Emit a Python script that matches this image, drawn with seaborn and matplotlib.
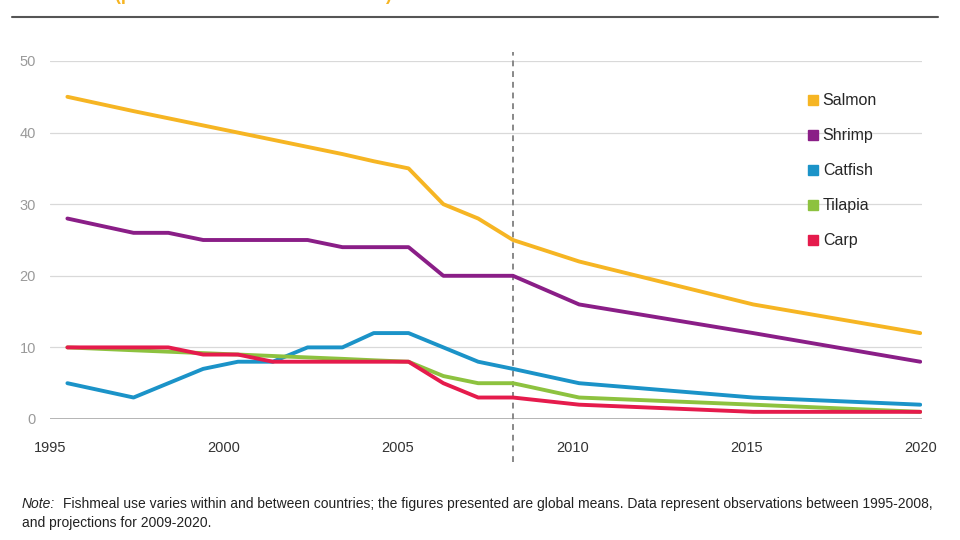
import numpy as np
import pandas as pd
import matplotlib
matplotlib.use("Agg")
import matplotlib.pyplot as plt
from matplotlib.lines import Line2D
import seaborn as sns

# positions of the data points along the year axis, as drawn in the reference
years = [1995.5, 1997.4, 1998.4, 1999.4, 2000.4, 2001.4, 2002.4, 2003.4,
         2004.3, 2005.3, 2006.3, 2007.3, 2008.3, 2010.2, 2015.2, 2020.0]

salmon = [45, 43, 42, 41, 40, 39, 38, 37, 36, 35, 30, 28, 25, 22, 16, 12]
shrimp = [28, 26, 26, 25, 25, 25, 25, 24, 24, 24, 20, 20, 20, 16, 12, 8]
catfish = [5, 3, 5, 7, 8, 8, 10, 10, 12, 12, 10, 8, 7, 5, 3, 2]
tilapia = [10, 9.6, 9.4, 9.2, 9, 8.8, 8.6, 8.4, 8.2, 8, 6, 5, 5, 3, 2, 1]
carp = [10, 10, 10, 9, 9, 8, 8, 8, 8, 8, 5, 3, 3, 2, 1, 1]

species = ["Salmon", "Shrimp", "Catfish", "Tilapia", "Carp"]
colors = ["#F6B523", "#8A1E87", "#1B93C8", "#8DC23F", "#E51B4C"]

projection_start = 2008.3
x_ticks = [1995, 2000, 2005, 2010, 2015, 2020]
y_ticks = [0, 10, 20, 30, 40, 50]

title = "(percent of fishmeal in fish feed)"
note_line1 = ("Fishmeal use varies within and between countries; the figures presented are global means. "
              "Data represent observations between 1995-2008,")
note_line2 = "and projections for 2009-2020."

series = dict(zip(species, [salmon, shrimp, catfish, tilapia, carp]))
df = pd.DataFrame([
    {"Year": y, "Value": v, "Species": name}
    for name, vals in series.items() for y, v in zip(years, vals)
])

sns.set_style("white")
plt.rcParams["font.family"] = ["Liberation Sans", "DejaVu Sans"]

fig = plt.figure(figsize=(9.6, 5.4), dpi=100)
ax = fig.add_axes([50 / 960, 1 - 419 / 540, 872 / 960, 358 / 540])

# grid
for yv in y_ticks[1:]:
    ax.axhline(yv, color="#d9d9d9", lw=0.9, zorder=0)
ax.axhline(0, color="#a0a0a0", lw=1.1, zorder=0)

sns.lineplot(data=df, x="Year", y="Value", hue="Species", hue_order=species,
             palette=colors, linewidth=2.8, legend=False, ax=ax)

ax.axvline(projection_start, ymin=-0.12, ymax=1.025, color="#888888", lw=1.4,
           ls=(0, (3, 2.5)), clip_on=False, zorder=1)

ax.set_xlim(1995, 2020.05)
ax.set_ylim(0, 50)
ax.set_xticks(x_ticks)
ax.set_yticks(y_ticks)
ax.set_xlabel("")
ax.set_ylabel("")
for s in ax.spines.values():
    s.set_visible(False)
ax.tick_params(axis="y", length=0, pad=10, labelsize=10.5, labelcolor="#9a9a9a")
ax.tick_params(axis="x", length=0, pad=16, labelsize=10.5, labelcolor="#333333")

handles = [Line2D([], [], marker="s", ls="none", color=c, markersize=6.5) for c in colors]
ax.legend(handles, species, loc="upper left", bbox_to_anchor=(802 / 960, 1 - 87 / 540),
          bbox_transform=fig.transFigure, frameon=False, fontsize=11.5,
          handlelength=0.6, handletextpad=0.3, labelspacing=1.25, borderaxespad=0)

# top rule and clipped subtitle
fig.add_artist(Line2D([12 / 960, 938 / 960], [1 - 17 / 540, 1 - 17 / 540],
                      color="#555555", lw=1.5, transform=fig.transFigure))
fig.text(115 / 960, 1 + 4 / 540, title, color="#F6B523", fontsize=13,
         fontweight="bold", va="center", ha="left")

fig.text(22 / 960, 1 - 504 / 540, "Note:", fontsize=10, style="italic",
         color="#222222", va="center")
fig.text(63 / 960, 1 - 504 / 540, note_line1, fontsize=10,
         color="#222222", va="center")
fig.text(22 / 960, 1 - 523 / 540, note_line2, fontsize=10,
         color="#222222", va="center")

fig.savefig("out.png", dpi=100)
